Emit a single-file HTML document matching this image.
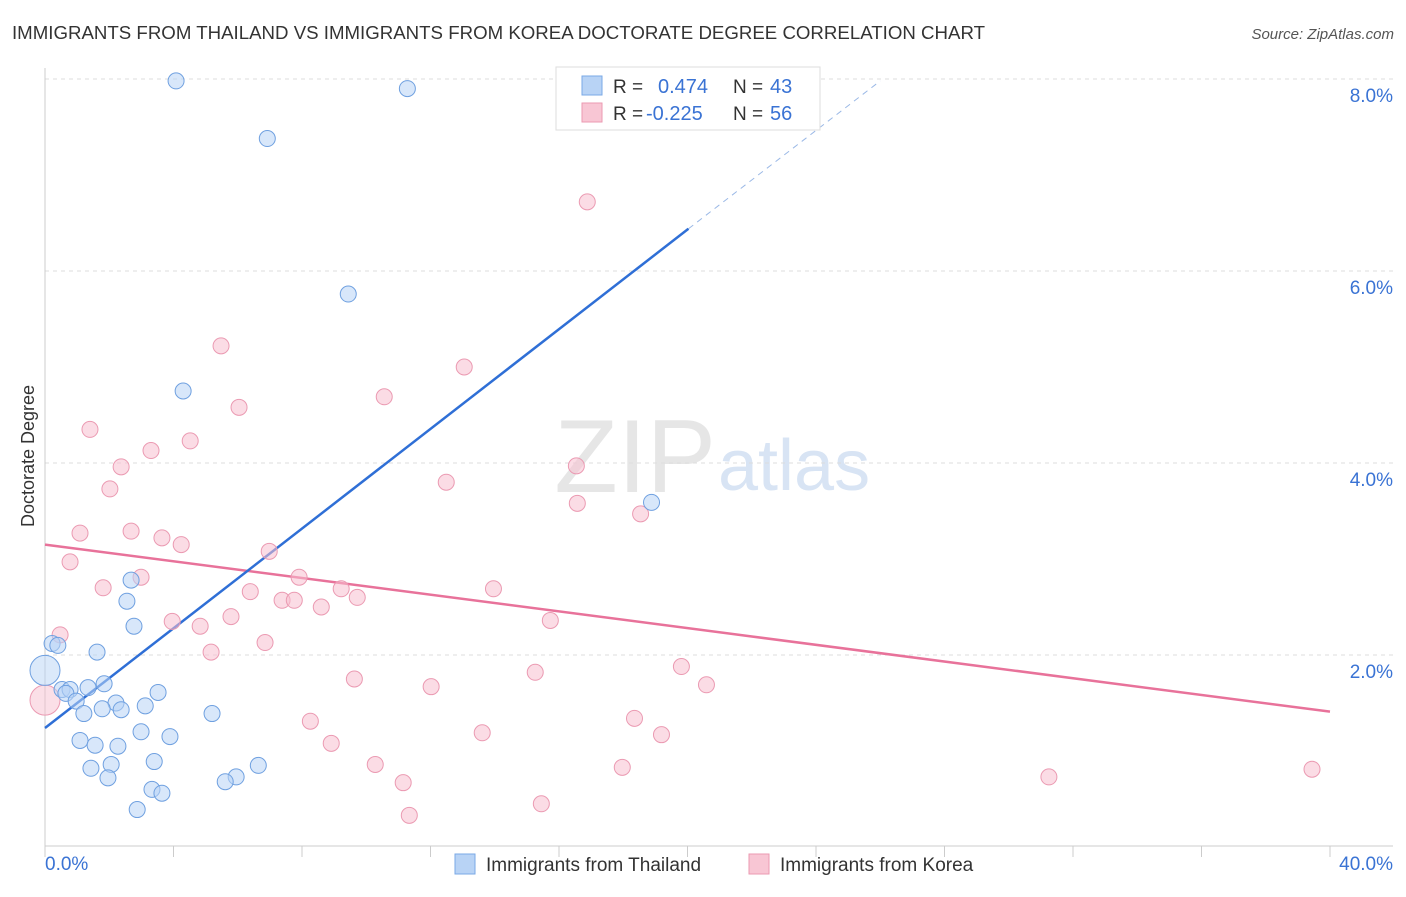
<!DOCTYPE html>
<html><head><meta charset="utf-8"><style>
body{margin:0;background:#fff;font-family:"Liberation Sans",sans-serif;}
svg text{font-family:"Liberation Sans",sans-serif;}
</style></head><body>
<svg id="chart" width="1406" height="892" xmlns="http://www.w3.org/2000/svg">
<text x="12" y="39" font-size="18" fill="#333" textLength="973" lengthAdjust="spacingAndGlyphs">IMMIGRANTS FROM THAILAND VS IMMIGRANTS FROM KOREA DOCTORATE DEGREE CORRELATION CHART</text>
<text x="1394" y="39" font-size="15" fill="#555" font-style="italic" text-anchor="end">Source: ZipAtlas.com</text>
<text x="34" y="456" font-size="18" fill="#333" text-anchor="middle" transform="rotate(-90 34 456)">Doctorate Degree</text>
<text x="716" y="492" font-size="104" fill="#e6e6e6" text-anchor="end" font-family="Liberation Serif">ZIP</text>
<text x="718" y="490" font-size="72" fill="#d8e4f4">atlas</text>
<g id="grid"></g><g id="axes"></g><g id="lines"></g><g id="pts"></g>
<g>
<rect x="556" y="67" width="264" height="63" fill="#fff" stroke="#ddd"/>
<rect x="582" y="76" width="20" height="19" fill="#b8d3f5" stroke="#7aa8e6"/>
<text x="613" y="93" font-size="19" fill="#333">R =</text><text x="658" y="93" font-size="20" fill="#3a73d4">0.474</text>
<text x="733" y="93" font-size="19" fill="#333">N =</text><text x="770" y="93" font-size="20" fill="#3a73d4">43</text>
<rect x="582" y="103" width="20" height="19" fill="#f8c6d4" stroke="#eb9ab2"/>
<text x="613" y="120" font-size="19" fill="#333">R =</text><text x="646" y="120" font-size="20" fill="#3a73d4">-0.225</text>
<text x="733" y="120" font-size="19" fill="#333">N =</text><text x="770" y="120" font-size="20" fill="#3a73d4">56</text>
</g>
<g>
<rect x="455" y="854" width="20" height="20" fill="#b8d3f5" stroke="#7aa8e6"/>
<text x="486" y="871" font-size="19" fill="#333">Immigrants from Thailand</text>
<rect x="749" y="854" width="20" height="20" fill="#f8c6d4" stroke="#eb9ab2"/>
<text x="780" y="871" font-size="19" fill="#333">Immigrants from Korea</text>
</g>
</svg>
<script>
const yTicks=[2,4,6,8];
const yTickLabels=["2.0%","4.0%","6.0%","8.0%"];
const xTickLabels=["0.0%","40.0%"];
const thaiX=[4.08,11.28,6.92,9.44,4.3,18.88,2.68,2.55,2.77,0.22,0.4,1.62,0,1.84,1.34,0.53,0.78,0.65,3.52,0.97,2.21,3.12,1.78,2.37,1.21,5.2,2.99,3.89,1.09,1.56,2.27,3.4,2.06,6.64,1.43,5.95,1.96,5.61,3.33,3.64,2.87];
const thaiY=[7.98,7.9,7.38,5.76,4.75,3.59,2.78,2.56,2.3,2.12,2.1,2.03,1.84,1.7,1.66,1.64,1.64,1.6,1.61,1.52,1.5,1.47,1.44,1.43,1.39,1.39,1.2,1.15,1.11,1.06,1.05,0.89,0.86,0.85,0.82,0.73,0.72,0.68,0.6,0.56,0.39];
const koreaX=[16.88,5.48,13.05,6.04,10.56,1.4,4.52,3.3,2.37,16.54,2.02,12.49,16.57,18.54,1.09,2.68,3.64,4.24,6.98,0.78,2.99,7.91,1.81,6.39,9.22,13.96,9.72,7.38,7.76,8.6,5.79,3.96,4.83,15.73,0.47,6.85,5.17,19.81,15.26,9.63,20.59,12.02,0,18.35,8.26,13.61,19.19,8.91,10.28,17.97,11.15,31.25,39.44,15.45,11.34,19.0];
const koreaY=[6.72,5.22,5.0,4.58,4.69,4.35,4.23,4.13,3.96,3.97,3.73,3.8,3.58,3.47,3.27,3.29,3.22,3.15,3.08,2.97,2.81,2.81,2.7,2.66,2.69,2.69,2.6,2.57,2.57,2.5,2.4,2.35,2.3,2.36,2.21,2.13,2.03,1.88,1.82,1.75,1.69,1.67,1.53,1.34,1.31,1.19,1.17,1.08,0.86,0.83,0.67,0.73,0.81,0.45,0.33,7.67];
const thaiTrend=[[0,1.24],[20.03,6.44]];
const thaiTrendExt=[[20.03,6.44],[26.0,7.98]];
const koreaTrend=[[0,3.15],[40,1.41]];
const X=v=>45+v*32.125, Y=v=>847-v*96;
const NS="http://www.w3.org/2000/svg";
function mk(p,t,a){const e=document.createElementNS(NS,t);for(const k in a)e.setAttribute(k,a[k]);document.getElementById(p).appendChild(e);return e;}
yTicks.forEach((t,i)=>{
 const g=mk('grid','line',{x1:45,x2:1393,y1:Y(t),y2:Y(t),stroke:'#ddd','stroke-dasharray':'4,4'});
 
 
 const l=mk('grid','text',{x:1393,y:Y(t)+23,'font-size':19,fill:'#3a73d4','text-anchor':'end'});
 l.textContent=yTickLabels[i];
 
 
});
mk('axes','line',{x1:45,x2:45,y1:68,y2:846,stroke:'#ccc'});
mk('axes','line',{x1:45,x2:1393,y1:846,y2:846,stroke:'#ccc'});
for(let i=0;i<=10;i++){const t=mk('axes','line',{x1:X(i*4),x2:X(i*4),y1:846,y2:857,stroke:'#ccc'});
 
 }
[[0,45,'start'],[1,1393,'end']].forEach(([i,x,a])=>{const l=mk('axes','text',{x:x,y:870,'font-size':19,fill:'#3a73d4','text-anchor':a});l.textContent=xTickLabels[i];
 
 });
function pts(xs,ys,fill,stroke,name){xs.forEach((x,i)=>{const big=(x===0);const c=mk('pts','circle',{cx:X(x),cy:Y(ys[i]),r:big?15:8,fill:fill,stroke:stroke,'stroke-width':1,'fill-opacity':big?0.5:0.55});
 
 });}
pts(koreaX,koreaY,'#f8c0d0','#eb9ab2','korea-point');
pts(thaiX,thaiY,'#b8d3f5','#6fa0e0','thailand-point');
function ln(s,col,dash,name){const e=mk('lines','line',{x1:X(s[0][0]),y1:Y(s[0][1]),x2:X(s[1][0]),y2:Y(s[1][1]),stroke:col,'stroke-width':dash?1:2.5,'stroke-dasharray':dash?'6,5':'none'});
 
 }
ln(koreaTrend,'#e8729a',false,'korea-trend-line');
ln(thaiTrend,'#2f6fd6',false,'thailand-trend-line');
ln(thaiTrendExt,'#9ab8e6',true,'thailand-trend-extension');
</script>
</body></html>
